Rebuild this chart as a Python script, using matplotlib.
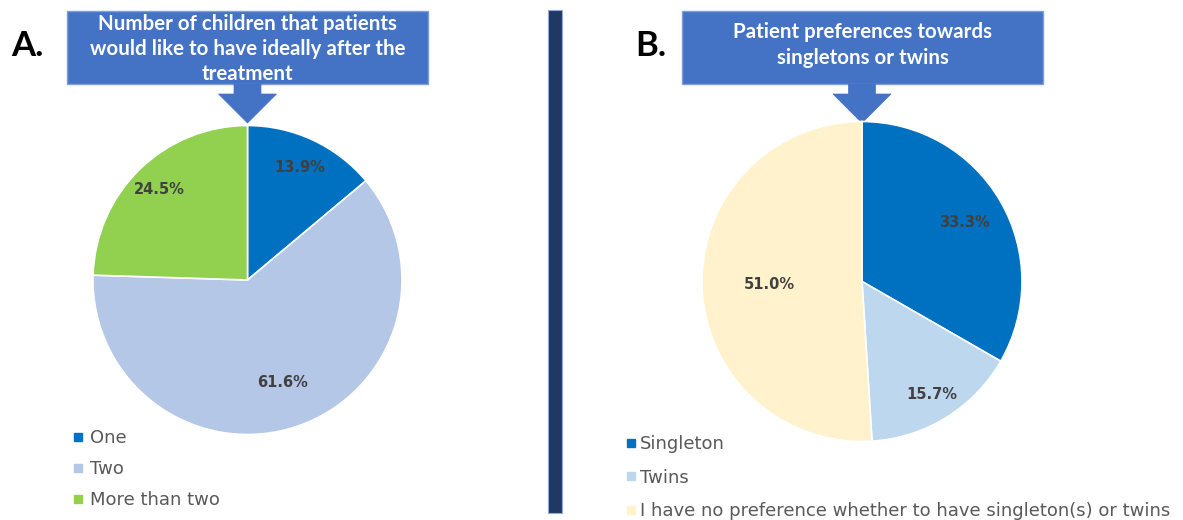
import numpy as np
import matplotlib
matplotlib.use('Agg')
import matplotlib.pyplot as plt
from matplotlib.patches import Rectangle, Polygon
from matplotlib.lines import Line2D

# data
labels_a = ['One', 'Two', 'More than two']
values_a = [13.9, 61.6, 24.5]
colors_a = ['#0070C0', '#B4C7E7', '#92D050']
title_a = 'Number of children that patients\nwould like to have ideally after the\ntreatment'

labels_b = ['Singleton', 'Twins', 'I have no preference whether to have singleton(s) or twins']
values_b = [33.3, 15.7, 51.0]
colors_b = ['#0070C0', '#BDD7EE', '#FFF2CC']
title_b = 'Patient preferences towards\nsingletons or twins'

W, H = 1183, 520
fig = plt.figure(figsize=(W / 100, H / 100), dpi=100)
fig.patch.set_facecolor('white')

# overlay axes in pixel coordinates (y down)
ov = fig.add_axes([0, 0, 1, 1])
ov.set_xlim(0, W)
ov.set_ylim(H, 0)
ov.axis('off')


def pie_panel(cx, cy, r, vals, cols, lab_r):
    ax = fig.add_axes([(cx - r) / W, (H - cy - r) / H, 2 * r / W, 2 * r / H])
    wedges, _, autot = ax.pie(vals, colors=cols, startangle=90, counterclock=False,
                              autopct='%1.1f%%', pctdistance=0.8,
                              wedgeprops=dict(edgecolor='white', linewidth=1.2),
                              textprops=dict(color='#404040', fontsize=10.5, fontweight='bold'))
    # move labels radially to mimic best-fit placement
    for w, t, d in zip(wedges, autot, lab_r):
        ang = np.deg2rad((w.theta1 + w.theta2) / 2)
        t.set_position((d * np.cos(ang), d * np.sin(ang)))
    ax.set_xlim(-1, 1)
    ax.set_ylim(-1, 1)
    ax.set_aspect('equal')
    return ax, wedges


def title_box(x0, x1, text, ty, tip_x):
    ov.add_patch(Rectangle((x0, 11), x1 - x0, 73, facecolor='#4472C4',
                           edgecolor='#7F9FDC', linewidth=1, zorder=2))
    sw, hw = 13.5, 29
    arrow = [(tip_x - sw, 84), (tip_x + sw, 84), (tip_x + sw, 94), (tip_x + hw, 94),
             (tip_x, 123), (tip_x - hw, 94), (tip_x - sw, 94)]
    ov.add_patch(Polygon(arrow, closed=True, facecolor='#4472C4',
                         edgecolor='#4472C4', linewidth=0.5, zorder=2))
    ov.text((x0 + x1) / 2, ty, text, ha='center', va='center', color='white',
            fontsize=14.8, fontweight='bold', family='Lato', linespacing=1.33, zorder=3)


pie_panel(247.5, 280, 154.5, values_a, colors_a, [0.8, 0.7, 0.82])
pie_panel(862, 281.5, 160, values_b, colors_b, [0.74, 0.83, 0.58])

title_box(67, 428, title_a, 49, 247.5)
title_box(682, 1043, title_b, 45, 862)

ov.text(11, 56, 'A.', fontsize=25, fontweight='bold', family='Lato', color='black')
ov.text(635, 56, 'B.', fontsize=25, fontweight='bold', family='Lato', color='black')

# divider
ov.add_patch(Rectangle((548, 10), 14, 503, facecolor='#203864',
                       edgecolor='#8FAADC', linewidth=0.8))


def make_legend(labels, cols, x, y, spacing, pad):
    handles = [Line2D([], [], marker='s', linestyle='none', markersize=6,
                      markerfacecolor=c, markeredgecolor=c) for c in cols]
    leg = fig.legend(handles, labels, loc='upper left', bbox_to_anchor=(x / W, 1 - y / H),
                     frameon=False, handlelength=0.5, handletextpad=pad,
                     labelspacing=spacing, borderpad=0, borderaxespad=0,
                     prop=dict(family='DejaVu Sans', size=13))
    for t in leg.get_texts():
        t.set_color('#595959')
    return leg


make_legend(labels_a, colors_a, 73, 429, 0.72, 0.45)
make_legend(labels_b, colors_b, 626, 435, 0.87, 0.25)

fig.savefig('out.png', dpi=100)
